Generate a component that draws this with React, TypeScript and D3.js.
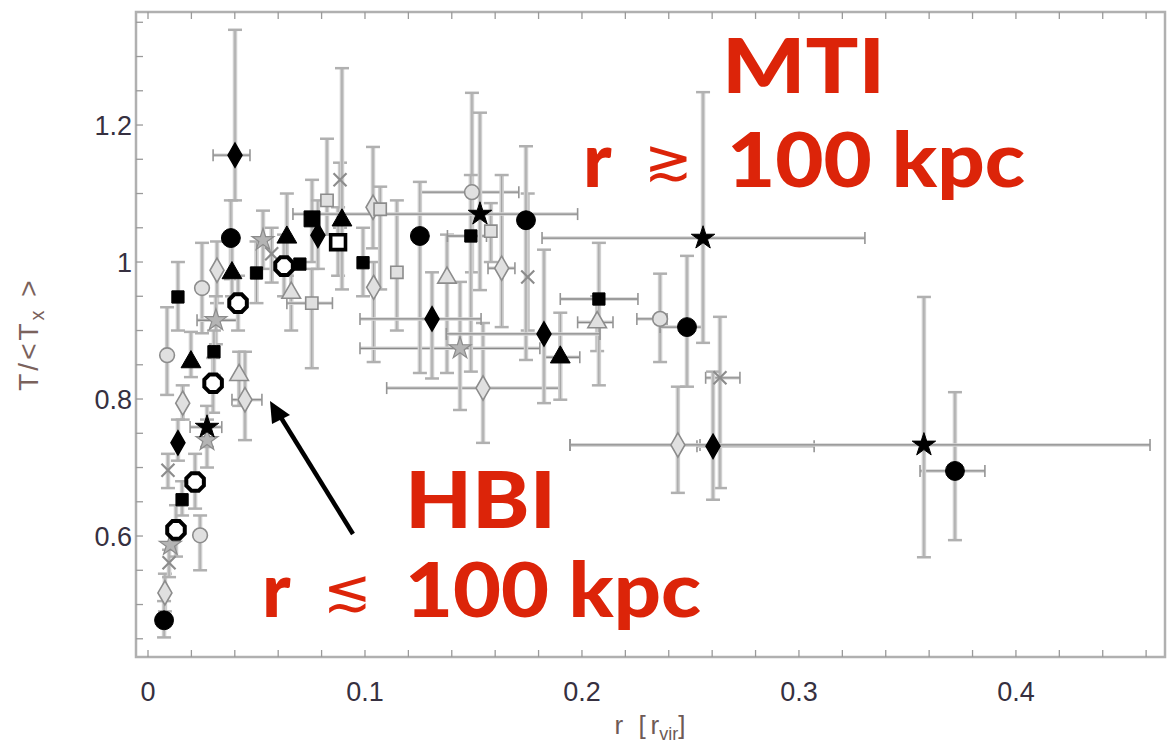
import React from 'react';
import * as d3 from 'd3';

type P = { x: number; y: number; xl?: number; xh?: number; yl?: number; yh?: number; s?: number };

// ---- axis ticks ----
const xMajor = [0, 0.1, 0.2, 0.3, 0.4];
const xTickLabels = ['0', '0.1', '0.2', '0.3', '0.4'];
const yMajor = [0.6, 0.8, 1, 1.2];
const yTickLabels = ['0.6', '0.8', '1', '1.2'];

// ---- black (filled) symbols ----
const blackCircles: P[] = [
  { x: 0.0382, y: 1.035, yl: 0.975, yh: 1.09 },
  { x: 0.1253, y: 1.038, yl: 0.838, yh: 1.117 },
  { x: 0.1742, y: 1.061, yl: 0.857, yh: 1.169 },
  { x: 0.2484, y: 0.905, xl: 0.236, xh: 0.2555, yl: 0.818, yh: 1.009 },
  { x: 0.3719, y: 0.695, xl: 0.3558, xh: 0.3857, yl: 0.594, yh: 0.81 },
  { x: 0.0074, y: 0.477, yl: 0.452, yh: 0.505 },
];
const openOctagons: P[] = [
  { x: 0.0129, y: 0.609, yl: 0.57, yh: 0.645 },
  { x: 0.0217, y: 0.679, yl: 0.64, yh: 0.72 },
  { x: 0.030, y: 0.823, yl: 0.78, yh: 0.86 },
  { x: 0.0415, y: 0.94, yl: 0.9, yh: 0.98 },
  { x: 0.0627, y: 0.994, yl: 0.95, yh: 1.04 },
];
const openSquares: P[] = [
  { x: 0.0876, y: 1.029, yl: 0.98, yh: 1.08 },
];
const blackSquares: P[] = [
  { x: 0.0138, y: 0.949, yl: 0.9, yh: 1.0 },
  { x: 0.0304, y: 0.869, yl: 0.835, yh: 0.9 },
  { x: 0.0157, y: 0.653, yl: 0.63, yh: 0.68 },
  { x: 0.05, y: 0.984, yl: 0.94, yh: 1.03 },
  { x: 0.0756, y: 1.063, yl: 1.0, yh: 1.12, s: 1.3 },
  { x: 0.07, y: 0.997 },
  { x: 0.0991, y: 0.999, yl: 0.95, yh: 1.05 },
  { x: 0.1488, y: 1.038, xl: 0.138, xh: 0.156, yl: 0.84, yh: 1.127 },
  { x: 0.2078, y: 0.946, xl: 0.19, xh: 0.2258, yl: 0.82, yh: 1.028 },
];
const blackTriangles: P[] = [
  { x: 0.0198, y: 0.854, yl: 0.832, yh: 0.898 },
  { x: 0.0387, y: 0.984, yl: 0.95, yh: 1.03 },
  { x: 0.064, y: 1.036, yl: 0.98, yh: 1.1 },
  { x: 0.0894, y: 1.061, yl: 0.96, yh: 1.283 },
  { x: 0.19, y: 0.861, xl: 0.183, xh: 0.199, yl: 0.799, yh: 0.926 },
];
const blackDiamonds: P[] = [
  { x: 0.0401, y: 1.156, xl: 0.03, xh: 0.047, yl: 1.09, yh: 1.339 },
  { x: 0.0138, y: 0.736, yl: 0.71, yh: 0.77 },
  { x: 0.0783, y: 1.039, yl: 0.99, yh: 1.09 },
  { x: 0.1309, y: 0.917, xl: 0.0977, xh: 0.1535, yl: 0.83, yh: 0.985 },
  { x: 0.1825, y: 0.895, xl: 0.1375, xh: 0.2083, yl: 0.794, yh: 1.018 },
  { x: 0.2604, y: 0.731, xl: 0.253, xh: 0.307, yl: 0.653, yh: 0.84 },
];
const blackStars: P[] = [
  { x: 0.0272, y: 0.759, xl: 0.0194, xh: 0.034, yl: 0.73, yh: 0.79 },
  { x: 0.153, y: 1.07, xl: 0.0668, xh: 0.198, yl: 0.959, yh: 1.218 },
  { x: 0.2558, y: 1.035, xl: 0.1816, xh: 0.3304, yl: 0.882, yh: 1.248 },
  { x: 0.3576, y: 0.733, xl: 0.1945, xh: 0.4618, yl: 0.569, yh: 0.949 },
];

// ---- gray (open) symbols ----
const grayCircles: P[] = [
  { x: 0.0088, y: 0.864, yl: 0.806, yh: 0.934 },
  { x: 0.0249, y: 0.962, yl: 0.896, yh: 1.028 },
  { x: 0.024, y: 0.601, yl: 0.55, yh: 0.63 },
  { x: 0.1493, y: 1.102, xl: 0.1249, xh: 0.1709, yl: 0.985, yh: 1.247 },
  { x: 0.236, y: 0.917, xl: 0.2253, xh: 0.2392, yl: 0.854, yh: 0.983 },
];
const grayDiamonds: P[] = [
  { x: 0.016, y: 0.794, yl: 0.77, yh: 0.82 },
  { x: 0.0447, y: 0.799, xl: 0.0387, xh: 0.0525, yl: 0.74, yh: 0.869 },
  { x: 0.0078, y: 0.517, yl: 0.49, yh: 0.545 },
  { x: 0.0318, y: 0.988, yl: 0.94, yh: 1.03 },
  { x: 0.1544, y: 0.816, xl: 0.11, xh: 0.19, yl: 0.736, yh: 0.911 },
  { x: 0.163, y: 0.991, xl: 0.1567, xh: 0.1691, yl: 0.905, yh: 1.127 },
  { x: 0.2442, y: 0.733, xl: 0.1945, xh: 0.2544, yl: 0.663, yh: 0.818 },
  { x: 0.1037, y: 1.08, yl: 1.02, yh: 1.168 },
  { x: 0.104, y: 0.963, yl: 0.854, yh: 1.0 },
];
const grayTriangles: P[] = [
  { x: 0.042, y: 0.835, yl: 0.79, yh: 0.869 },
  { x: 0.1378, y: 0.977, yl: 0.838, yh: 1.04 },
  { x: 0.207, y: 0.912, xl: 0.198, xh: 0.2143, yl: 0.87, yh: 0.95 },
  { x: 0.066, y: 0.955, yl: 0.9, yh: 1.0 },
];
const grayStars: P[] = [
  { x: 0.0313, y: 0.915, xl: 0.0226, xh: 0.041, yl: 0.88, yh: 0.95 },
  { x: 0.1438, y: 0.874, xl: 0.0977, xh: 0.1806, yl: 0.784, yh: 0.971 },
  { x: 0.053, y: 1.032, yl: 0.99, yh: 1.075 },
  { x: 0.0272, y: 0.74, yl: 0.7, yh: 0.77 },
  { x: 0.0103, y: 0.587 },
];
const grayXs: P[] = [
  { x: 0.0097, y: 0.561, yl: 0.54, yh: 0.58 },
  { x: 0.0092, y: 0.696, yl: 0.67, yh: 0.72 },
  { x: 0.0885, y: 1.12, yl: 1.05, yh: 1.145 },
  { x: 0.175, y: 0.978, yl: 0.9, yh: 1.1 },
  { x: 0.2636, y: 0.831, xl: 0.257, xh: 0.2728, yl: 0.67, yh: 0.92 },
  { x: 0.057, y: 1.012, yl: 0.97, yh: 1.05 },
];
const graySquares: P[] = [
  { x: 0.1147, y: 0.985, yl: 0.9, yh: 1.09 },
  { x: 0.158, y: 1.045, yl: 1.0, yh: 1.086 },
  { x: 0.0755, y: 0.94, xl: 0.064, xh: 0.085, yl: 0.845, yh: 0.99 },
  { x: 0.0825, y: 1.09, yl: 1.04, yh: 1.18 },
  { x: 0.107, y: 1.077, yl: 0.96, yh: 1.11 },
];

// ---- annotations ----
const mtiTitle = 'MTI';
const hbiTitle = 'HBI';
const radiusText = '100 kpc';

const W = 1167;
const H = 745;
const xs = d3.scaleLinear().domain([-0.00553, 0.4687]).range([136, 1165]);
const ys = d3.scaleLinear().domain([0.4234, 1.365]).range([657, 12]);

const octagon = (r: number) => {
  const pts = d3.range(8).map((i) => {
    const a = (Math.PI / 4) * i + Math.PI / 8;
    return [r * Math.cos(a), r * Math.sin(a)] as [number, number];
  });
  return d3.line()(pts.concat([pts[0]])) + 'Z';
};
const xMark = (r: number) => `M${-r},${-r}L${r},${r}M${-r},${r}L${r},${-r}`;

const symPath = (t: d3.SymbolType, size: number) => d3.symbol().type(t).size(size)() as string;

const allPoints: P[] = [
  ...grayCircles, ...grayDiamonds, ...grayTriangles, ...grayStars, ...grayXs, ...graySquares,
  ...blackCircles, ...openOctagons, ...openSquares, ...blackSquares, ...blackTriangles, ...blackDiamonds, ...blackStars,
];

function ErrorBars({ pts }: { pts: P[] }) {
  return (
    <g>
      {pts.map((p, i) => {
        const cx = xs(p.x);
        const cy = ys(p.y);
        const els: React.ReactNode[] = [];
        if (p.yl !== undefined && p.yh !== undefined) {
          const y1 = ys(p.yh);
          const y2 = ys(p.yl);
          els.push(<line key="v" x1={cx} x2={cx} y1={y1} y2={y2} stroke="#cfcfcf" strokeWidth={4.5} />);
          els.push(<line key="v2" x1={cx} x2={cx} y1={y1} y2={y2} stroke="#9c9c9c" strokeWidth={1} />);
          els.push(<line key="c1" x1={cx - 7} x2={cx + 7} y1={y1} y2={y1} stroke="#b0b0b0" strokeWidth={2.5} />);
          els.push(<line key="c2" x1={cx - 7} x2={cx + 7} y1={y2} y2={y2} stroke="#b0b0b0" strokeWidth={2.5} />);
        }
        if (p.xl !== undefined && p.xh !== undefined) {
          const x1 = xs(p.xl);
          const x2 = xs(p.xh);
          els.push(<line key="h" x1={x1} x2={x2} y1={cy} y2={cy} stroke="#d4d4d4" strokeWidth={3.5} />);
          els.push(<line key="h2" x1={x1} x2={x2} y1={cy} y2={cy} stroke="#8a8a8a" strokeWidth={1.3} />);
          els.push(<line key="d1" x1={x1} x2={x1} y1={cy - 6} y2={cy + 6} stroke="#959595" strokeWidth={1.6} />);
          els.push(<line key="d2" x1={x2} x2={x2} y1={cy - 6} y2={cy + 6} stroke="#959595" strokeWidth={1.6} />);
        }
        return <g key={i}>{els}</g>;
      })}
    </g>
  );
}

function Marks({ pts, d, fill, stroke, sw }: { pts: P[]; d: string | ((p: P) => string); fill: string; stroke: string; sw: number }) {
  return (
    <g>
      {pts.map((p, i) => (
        <path
          key={i}
          d={typeof d === 'string' ? d : d(p)}
          transform={`translate(${xs(p.x)},${ys(p.y)})`}
          fill={fill}
          stroke={stroke}
          strokeWidth={sw}
        />
      ))}
    </g>
  );
}

export default function App() {
  const xMinor = d3.range(0, 0.4601, 0.02);
  const yMinor = d3.range(0.45, 1.3601, 0.05);
  const gray = '#8c8c8c';
  const grayFill = '#e0e0e0';
  const red = '#dc2409';
  const redFont = "'Lato', 'Open Sans', 'DejaVu Sans', sans-serif";
  const tickFont = "'Liberation Sans', Arial, sans-serif";
  return (
    <svg width={W} height={H} style={{ position: 'absolute', left: 0, top: 0, background: '#fff' }}>
      <defs>
        <filter id="soft" x="-5%" y="-5%" width="110%" height="110%">
          <feGaussianBlur stdDeviation="0.7" />
        </filter>
      </defs>
      <rect x={0} y={0} width={W} height={H} fill="#fff" />

      {/* frame */}
      <rect x={136} y={12} width={1029} height={645} fill="none" stroke="#b0b0b0" strokeWidth={2.5} />
      {xMinor.map((v, i) => (
        <g key={'xt' + i}>
          <line x1={xs(v)} x2={xs(v)} y1={657} y2={650} stroke="#9a9a9a" strokeWidth={1.3} />
          <line x1={xs(v)} x2={xs(v)} y1={12} y2={19} stroke="#9a9a9a" strokeWidth={1.3} />
        </g>
      ))}
      {yMinor.map((v, i) => (
        <line key={'yt' + i} x1={136} x2={143} y1={ys(v)} y2={ys(v)} stroke="#9a9a9a" strokeWidth={1.3} />
      ))}

      {/* tick labels */}
      {xMajor.map((v, i) => (
        <text key={'xl' + i} x={xs(v)} y={701} textAnchor="middle" fontFamily={tickFont} fontSize={27} fill="#363040">
          {xTickLabels[i]}
        </text>
      ))}
      {yMajor.map((v, i) => (
        <text key={'yl' + i} x={132} y={ys(v) + 10} textAnchor="end" fontFamily={tickFont} fontSize={27} fill="#363040">
          {yTickLabels[i]}
        </text>
      ))}

      {/* axis titles */}
      <text x={650} y={734} textAnchor="middle" fontFamily={tickFont} fontSize={26} fill="#6e5a56">
        r{'  '}
        <tspan dx={8}>[</tspan>
        <tspan dx={5}>r</tspan>
        <tspan fontSize={18} dy={6}>vir</tspan>
        <tspan dy={-6}>]</tspan>
      </text>
      <text
        transform="translate(38,334) rotate(-90)"
        textAnchor="middle"
        fontFamily={tickFont}
        fontSize={28}
        letterSpacing={3}
        fill="#7a625c"
      >
        T/&lt;T<tspan fontSize={20} dy={6}>x</tspan>
        <tspan dy={-6}> &gt;</tspan>
      </text>

      {/* data */}
      <g filter="url(#soft)">
        <ErrorBars pts={allPoints} />
        <Marks pts={grayCircles} d={symPath(d3.symbolCircle, 170)} fill={grayFill} stroke={gray} sw={1.6} />
        <Marks pts={grayDiamonds} d={symPath(d3.symbolDiamond, 170)} fill={grayFill} stroke={gray} sw={1.6} />
        <Marks pts={grayTriangles} d={symPath(d3.symbolTriangle, 150)} fill={grayFill} stroke={gray} sw={1.6} />
        <Marks pts={grayStars} d={symPath(d3.symbolStar, 150)} fill="#b4b4b4" stroke={gray} sw={1.2} />
        <Marks pts={graySquares} d={symPath(d3.symbolSquare, 150)} fill={grayFill} stroke={gray} sw={1.6} />
        <Marks pts={grayXs} d={xMark(6.5)} fill="none" stroke={gray} sw={2.2} />

        <Marks pts={blackCircles} d={symPath(d3.symbolCircle, 280)} fill="#000" stroke="#000" sw={1} />
        <Marks pts={openOctagons} d={octagon(9.5)} fill="#fff" stroke="#000" sw={4} />
        <Marks pts={openSquares} d={symPath(d3.symbolSquare, 220)} fill="#fff" stroke="#000" sw={3.6} />
        <Marks pts={blackSquares} d={(p) => symPath(d3.symbolSquare, 150 * (p.s ?? 1) * (p.s ?? 1))} fill="#000" stroke="#000" sw={1} />
        <Marks pts={blackTriangles} d={symPath(d3.symbolTriangle, 170)} fill="#000" stroke="#000" sw={1} />
        <Marks pts={blackDiamonds} d={symPath(d3.symbolDiamond, 170)} fill="#000" stroke="#000" sw={1.5} />
        <Marks pts={blackStars} d={symPath(d3.symbolStar, 170)} fill="#000" stroke="#000" sw={1} />
      </g>

      {/* annotations */}
      <g fontFamily={redFont} fontWeight={900} fill={red}>
        <text x={722} y={93} fontSize={76} textLength={163} lengthAdjust="spacingAndGlyphs">{mtiTitle}</text>
        <text x={583} y={187} fontSize={76}>r</text>
        <text x={668} y={180} fontSize={58} fontWeight={300} textAnchor="middle">≳</text>
        <text x={727} y={187} fontSize={76} textLength={298} lengthAdjust="spacingAndGlyphs">{radiusText}</text>

        <text x={405} y={528} fontSize={78} textLength={151} lengthAdjust="spacingAndGlyphs">{hbiTitle}</text>
        <text x={262} y={617} fontSize={76}>r</text>
        <text x={347} y={610} fontSize={58} fontWeight={300} textAnchor="middle">≲</text>
        <text x={405} y={617} fontSize={76} textLength={296} lengthAdjust="spacingAndGlyphs">{radiusText}</text>
      </g>

      {/* arrow */}
      <line x1={353} y1={534} x2={280} y2={416} stroke="#000" strokeWidth={4.5} />
      <path d="M270,401 L290,415 L272,424 Z" fill="#000" />
    </svg>
  );
}
